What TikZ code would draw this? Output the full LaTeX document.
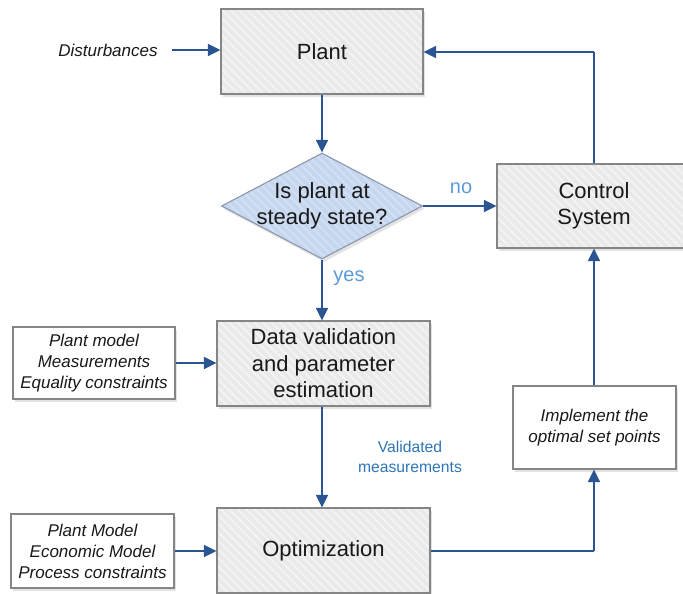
\documentclass[tikz,border=0pt]{standalone}
\usepackage{fontspec}
\setmainfont{Liberation Sans}
\usetikzlibrary{arrows.meta,shapes.geometric,shadows,patterns.meta}

\definecolor{flow}{HTML}{2B5493}
\definecolor{boxline}{HTML}{858585}
\definecolor{boxfill}{HTML}{E9E9E9}
\definecolor{stripe}{HTML}{F3F3F3}
\definecolor{decfill}{HTML}{C5D6EE}
\definecolor{decstripe}{HTML}{D3E0F3}
\definecolor{decline}{HTML}{8A97AD}
\definecolor{lightlbl}{HTML}{5B9BD5}
\definecolor{darklbl}{HTML}{2E75B6}

\tikzset{
  shade box/.style={drop shadow={shadow xshift=2pt,shadow yshift=-3pt,opacity=0.22,fill=gray}},
  hatched/.style 2 args={shade box,
    preaction={fill=#1},
    preaction={pattern={Lines[angle=-45,distance=6pt,line width=2pt]}, pattern color=#2}},
  procbox/.style={draw=boxline, line width=1.1pt, hatched={boxfill}{stripe},
    inner sep=0pt, align=center, font=\fontsize{22}{26.5}\selectfont, text=black!90},
  inbox/.style={draw=boxline, line width=1.1pt, fill=white, shade box,
    inner sep=0pt, align=center, font=\fontsize{17}{21}\selectfont\itshape, text=black!90},
  flowline/.style={draw=flow, line width=1.5pt, -{Triangle[length=12.5pt,width=12pt]}},
  plainline/.style={draw=flow, line width=1.5pt},
  lbl/.style={inner sep=0pt, align=center}
}

\begin{document}
\begin{tikzpicture}[x=1pt,y=-1pt]
\useasboundingbox (0,0) rectangle (683,594);

% main process blocks
\node[procbox, minimum width=202pt, minimum height=85pt] (plant) at (322,51.5) {Plant};
\node[procbox, minimum width=194pt, minimum height=84pt] (ctrl) at (594,206) {Control\\System};
\node[procbox, minimum width=213pt, minimum height=85pt] (dv) at (323.5,363.5) {Data validation\\and parameter\\estimation};
\node[procbox, minimum width=213pt, minimum height=85pt] (opt) at (323.5,550.5) {Optimization};

% decision
\node[diamond, draw=decline, line width=1.1pt, hatched={decfill}{decstripe},
  inner sep=0pt, minimum width=201pt, minimum height=106pt] (dec) at (322,206) {};
\node[lbl, font=\fontsize{22}{26.5}\selectfont, text=black!90] (dectext) at (322,206) {Is plant at\\steady state?};

% input and output boxes
\node[inbox, minimum width=162pt, minimum height=72pt] (inA) at (94,363) {Plant model\\Measurements\\Equality constraints};
\node[inbox, minimum width=163pt, minimum height=74pt] (inB) at (92.5,551) {Plant Model\\Economic Model\\Process constraints};
\node[inbox, minimum width=163pt, minimum height=83pt] (impl) at (594.5,427.5) {Implement the\\optimal set points};

% free texts
\node[lbl, font=\fontsize{17}{21}\selectfont\itshape, text=black!90] (dist) at (108,50) {Disturbances};
\node[lbl, font=\fontsize{20}{24}\selectfont, text=lightlbl] (no) at (461,188) {no};
\node[lbl, font=\fontsize{20}{24}\selectfont, text=lightlbl] (yes) at (349,278) {yes};
\node[lbl, font=\fontsize{15.7}{20}\selectfont, text=darklbl] (valid) at (410,457) {Validated\\measurements};

% corner points of the return paths
\coordinate (c1) at (594,551);
\coordinate (c2) at (594,52);

% connectors
\draw[flowline] (dist.east) ++(14pt,0) -- (plant.west |- 0,50);
\draw[flowline] (plant.south -| dec.north) -- (dec.north);
\draw[flowline] (dec.east) -- (ctrl.west);
\draw[flowline] (dec.south) -- (dv.north -| dec.south);
\draw[flowline] (inA.east) -- (dv.west |- inA.east);
\draw[flowline] (dv.south -| dec.south) -- (opt.north -| dec.south);
\draw[flowline] (inB.east) -- (opt.west |- inB.east);
\draw[plainline] (opt.east |- c1) -- (c1);
\draw[flowline] (c1) -- (impl.south -| c1);
\draw[flowline] (impl.north -| c1) -- (ctrl.south -| c1);
\draw[plainline] (ctrl.north -| c2) -- (c2);
\draw[flowline] (c2) -- (plant.east |- c2);
\end{tikzpicture}
\end{document}
